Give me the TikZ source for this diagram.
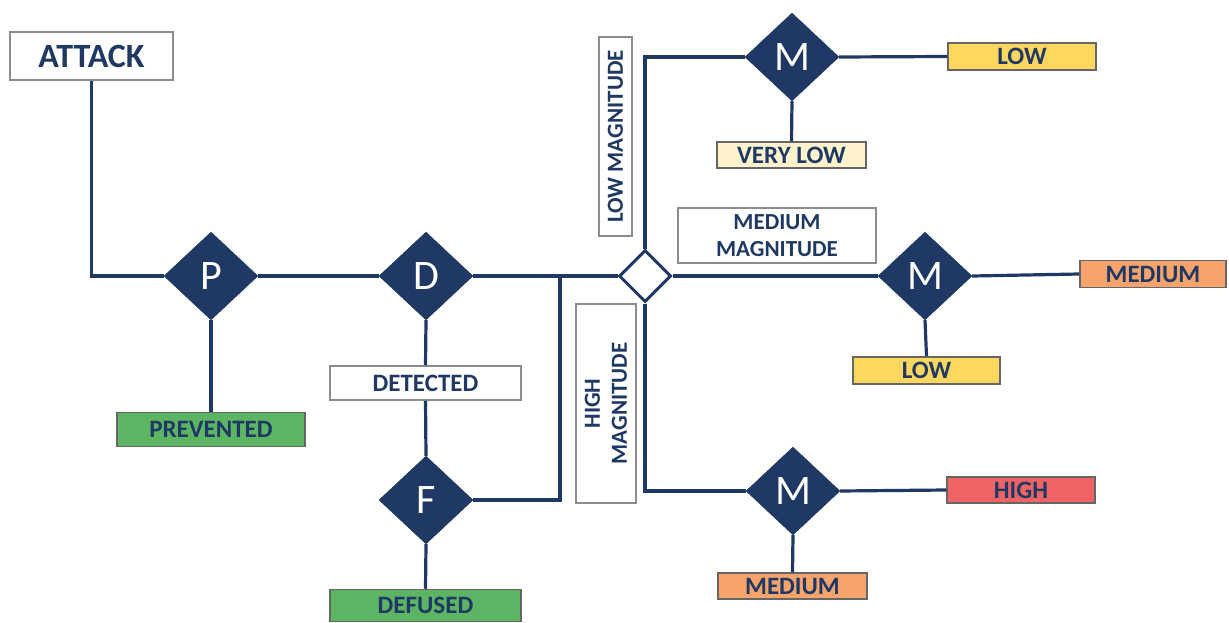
\documentclass[tikz,border=0pt]{standalone}
\usepackage{fontspec}
\setmainfont{Carlito}
\usetikzlibrary{shapes.geometric}
\definecolor{navy}{HTML}{1F3864}
\definecolor{bordergray}{HTML}{8C8C8C}
\definecolor{gfill}{HTML}{5BB563}
\definecolor{yfill}{HTML}{FFD75E}
\definecolor{cfill}{HTML}{FFF2CC}
\definecolor{ofill}{HTML}{F7A46C}
\definecolor{rfill}{HTML}{F06464}
\tikzset{
  conn/.style={draw=navy, line width=3.2pt},
  dia/.style={diamond, fill=navy, draw=navy, minimum width=94pt, minimum height=88pt, inner sep=0pt,
    text=white, font=\fontsize{42}{42}\selectfont},
  lbl/.style={rectangle, draw=bordergray, line width=1.5pt, inner sep=0pt, text=navy,
    font=\fontsize{25}{28}\bfseries\selectfont, align=center},
  maglbl/.style={lbl, font=\fontsize{23}{27}\bfseries\selectfont},
  res/.style={lbl, draw=gray!80!black},
}
\begin{document}
\begin{tikzpicture}[x=1pt,y=-1pt]
\useasboundingbox (0,0) rectangle (1229,623);
% nodes
\node[lbl, minimum width=163pt, minimum height=48pt, font=\fontsize{34}{36}\bfseries\selectfont] (attack) at (91.5,56) {ATTACK};
\node[dia] (P) at (211,276) {P};
\node[dia] (D) at (426,276) {D};
\node[dia] (F) at (426,500) {F};
\node[res, fill=gfill, minimum width=188pt, minimum height=34pt] (prev) at (211,429.5) {PREVENTED};
\node[lbl, fill=white, minimum width=191pt, minimum height=34pt] (det) at (425.5,383) {DETECTED};
\node[res, fill=gfill, minimum width=191pt, minimum height=32pt] (def) at (425.5,605.5) {DEFUSED};
\node[diamond, draw=navy, fill=white, line width=3pt, minimum width=52pt, minimum height=52pt, inner sep=0pt] (sd) at (645,276) {};
\node[dia] (M1) at (792,57) {M};
\node[dia] (M2) at (925,276) {M};
\node[dia] (M3) at (793,491) {M};
\node[res, fill=yfill, minimum width=148pt, minimum height=27pt] (low1) at (1022,56.5) {LOW};
\node[res, fill=cfill, minimum width=149pt, minimum height=26pt] (vlow) at (791.5,155) {VERY LOW};
\node[res, fill=ofill, minimum width=146pt, minimum height=27pt] (med2) at (1153,274) {MEDIUM};
\node[res, fill=yfill, minimum width=147pt, minimum height=27pt] (low2) at (926.5,370.5) {LOW};
\node[res, fill=rfill, minimum width=148pt, minimum height=26pt] (high) at (1021,490) {HIGH};
\node[res, fill=ofill, minimum width=149pt, minimum height=26pt] (med3) at (792.5,586) {MEDIUM};
\node[maglbl, minimum width=199pt, minimum height=33pt, rotate=90] (lowmag) at (615.5,136.5) {LOW MAGNITUDE};
\node[maglbl, minimum width=198pt, minimum height=55pt] (medmag) at (777,235.5) {MEDIUM\\MAGNITUDE};
\node[maglbl, minimum width=199pt, minimum height=60pt, rotate=90] (highmag) at (606,403.5) {HIGH\\MAGNITUDE};
\coordinate (j) at (560,276);
% connectors
\draw[conn] (attack.south) |- (P.west);
\draw[conn] (P.east) -- (D.west);
\draw[conn] (D.east) -- (sd.west);
\draw[conn] (P.south) -- (prev.north);
\draw[conn] (D.south) -- (det.north);
\draw[conn] (det.south) -- (F.north);
\draw[conn] (F.south) -- (def.north);
\draw[conn] (F.east) -| (j);
\draw[conn] (sd.north) |- (M1.west);
\draw[conn] (sd.east) -- (M2.west);
\draw[conn] (sd.south) |- (M3.west);
\draw[conn] (M1.east) -- (low1.west);
\draw[conn] (M1.south) -- (vlow.north);
\draw[conn] (M2.east) -- (med2.west);
\draw[conn] (M2.south) -- (low2.north);
\draw[conn] (M3.east) -- (high.west);
\draw[conn] (M3.south) -- (med3.north);
\end{tikzpicture}
\end{document}
